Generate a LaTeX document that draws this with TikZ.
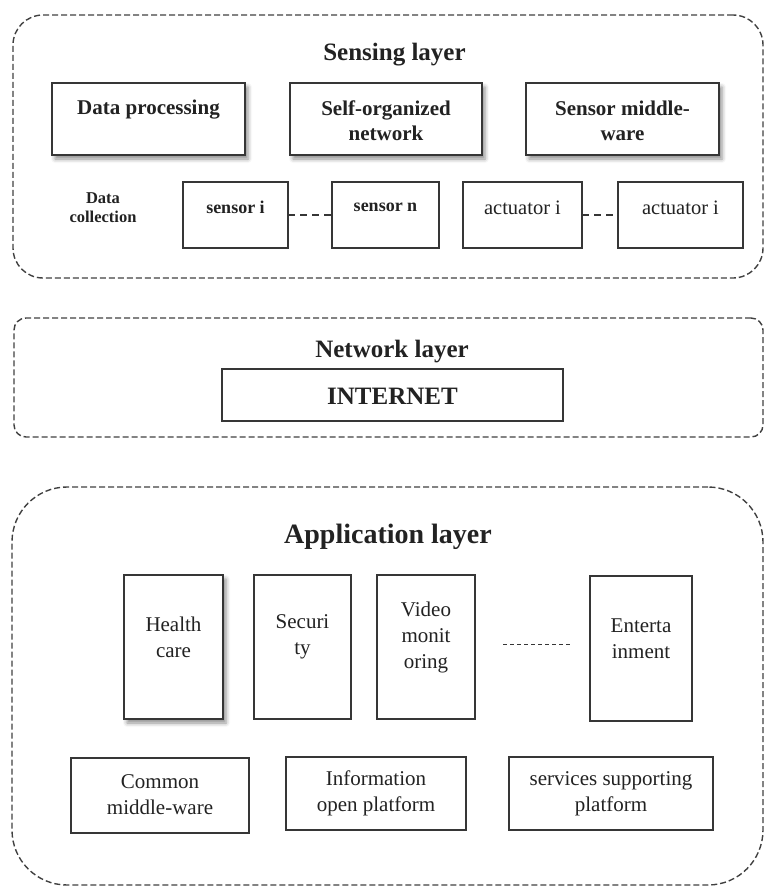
\documentclass[tikz,border=0pt]{standalone}
\usepackage{fontspec}
\setmainfont{Liberation Serif}
\usetikzlibrary{shadows.blur}

\definecolor{ink}{HTML}{222222}
\definecolor{rim}{HTML}{363636}
\definecolor{dashrim}{HTML}{404040}

\begin{document}
\begin{tikzpicture}[x=1pt,y=-1pt,
  layerbox/.style={draw=dashrim, line width=1.4pt, dash pattern=on 6pt off 3pt,
    rounded corners=#1, inner sep=0pt, outer sep=0pt},
  sz/.style 2 args={minimum width=#1pt, minimum height=#2pt},
  box/.style={draw=rim, line width=1.3pt, fill=white, inner sep=0pt, outer sep=0pt},
  shadowed/.style={blur shadow={shadow xshift=3pt, shadow yshift=-4pt,
    shadow blur radius=4pt, shadow opacity=45}},
  topbox/.style={box, line width=1.8pt, shadowed},
  txt/.style={align=center, inner sep=0pt, text=ink},
  title/.style={txt, font=\fontsize{25}{29}\selectfont\bfseries},
  boldlbl/.style={txt, font=\fontsize{21}{25}\selectfont\bfseries},
  sensorlbl/.style={txt, font=\fontsize{18}{21}\selectfont\bfseries},
  actlbl/.style={txt, font=\fontsize{20.5}{24}\selectfont},
  applbl/.style={txt, font=\fontsize{21}{26}\selectfont},
  linkdash/.style={draw=rim, line width=1.6pt, dash pattern=on 7pt off 5pt},
  appdash/.style={draw=rim, line width=0.9pt, dash pattern=on 4pt off 3pt}
]
\useasboundingbox (0,0) rectangle (765,887);

% ---------- layer frames ----------
\node[layerbox=30pt, sz={750}{263}] (sensing) at (388,146.5) {};
\node[layerbox=12pt, sz={749}{119}] (network) at (388.5,377.5) {};
\node[layerbox=55pt, sz={751}{398}] (application) at (387.5,686) {};

% ---------- sensing layer ----------
\node[title] (sensT) at (394.5,55) {Sensing layer};

\node[topbox, sz={193}{72}] (dp)  at (148.5,119) {};
\node[topbox, sz={192}{72}] (son) at (386,119) {};
\node[topbox, sz={193}{72}] (smw) at (622.5,119) {};
\node[boldlbl] (dpT)  at (148.5,110) {Data processing};
\node[boldlbl] (sonT) at (386,120.5) {Self-organized\\network};
\node[boldlbl] (smwT) at (622.5,120.5) {Sensor middle-\\ware};

\node[txt, font=\fontsize{16.5}{19}\selectfont\bfseries] (dc) at (103,208) {Data\\collection};

\node[box, sz={105}{66}] (si) at (235.5,215) {};
\node[box, sz={107}{66}] (sn) at (385.5,215) {};
\node[box, sz={119}{66}] (a1) at (522.5,215) {};
\node[box, sz={125}{66}] (a2) at (680.5,215) {};
\node[sensorlbl] (siT) at (235.5,207) {sensor i};
\node[sensorlbl] (snT) at (385.5,207) {sensor n};
\node[actlbl] (a1T) at (522.5,208) {actuator i};
\node[actlbl] (a2T) at (680.5,208) {actuator i};

\draw[linkdash] (si) -- (sn);
\draw[linkdash] (a1) -- (a2);

% ---------- network layer ----------
\node[title] (netT) at (392,352) {Network layer};
\node[box, line width=1.4pt, sz={341}{52}] (inet) at (392.5,395) {};
\node[title] (inetT) at (392.5,396) {INTERNET};

% ---------- application layer ----------
\node[title, font=\fontsize{28}{33}\selectfont\bfseries] (appT) at (388,537) {Application layer};

\node[box, line width=1.6pt, shadowed, sz={99}{144}] (hc) at (173.5,647) {};
\node[box, sz={97}{144}]  (sec) at (302.5,647) {};
\node[box, sz={98}{144}]  (vid) at (426,647) {};
\node[box, line width=1.6pt, sz={102}{145}] (ent) at (641,648.5) {};
\node[applbl] (hcT)  at (173.5,637) {Health\\care};
\node[applbl] (secT) at (302.5,637) {Securi\\ty};
\node[applbl] (vidT) at (426,637) {Video\\monit\\oring};
\node[applbl] (entT) at (641,638.5) {Enterta\\inment};

\draw[appdash, shorten <=28pt, shorten >=19pt]
  ([yshift=3pt]vid.east) -- ([yshift=3pt]vid.east -| ent.west);

\node[box, line width=1.6pt, sz={178}{75}] (cm)  at (160,795.5) {};
\node[box, sz={180}{73}] (iop) at (376,793.5) {};
\node[box, sz={204}{73}] (ssp) at (611,793.5) {};
\node[applbl] (cmT)  at (160,795) {Common\\middle-ware};
\node[applbl] (iopT) at (376,793.5) {Information\\open platform};
\node[applbl] (sspT) at (611,793.5) {services supporting\\platform};
\end{tikzpicture}
\end{document}
